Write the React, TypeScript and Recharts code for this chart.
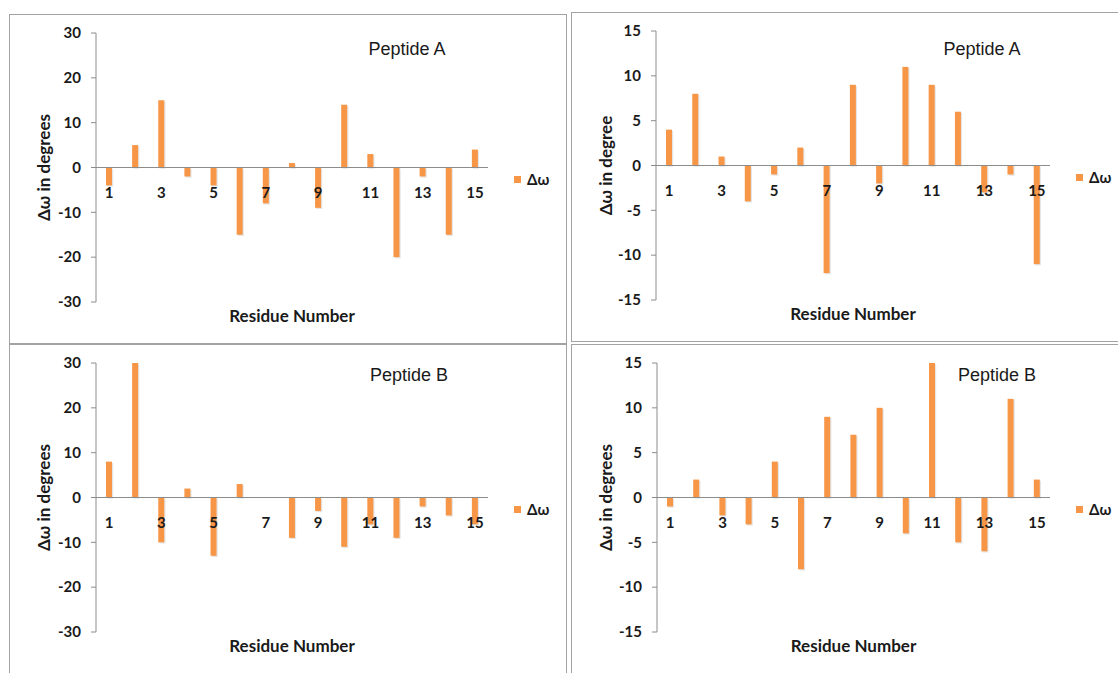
import React from 'react';
import { BarChart, Bar, XAxis, YAxis, ReferenceLine, Legend } from 'recharts';

const residues = ['1', '2', '3', '4', '5', '6', '7', '8', '9', '10', '11', '12', '13', '14', '15'];
const peptideA_left = [-4, 5, 15, -2, -4, -15, -8, 1, -9, 14, 3, -20, -2, -15, 4];
const peptideA_right = [4, 8, 1, -4, -1, 2, -12, 9, -2, 11, 9, 6, -3, -1, -11];
const peptideB_left = [8, 30, -10, 2, -13, 3, 0, -9, -3, -11, -6, -9, -2, -4, -6];
const peptideB_right = [-1, 2, -2, -3, 4, -8, 9, 7, 10, -4, 15, -5, -6, 11, 2];
const ticks30 = [-30, -20, -10, 0, 10, 20, 30];
const ticks15 = [-15, -10, -5, 0, 5, 10, 15];
const seriesName = 'Δω';

const ORANGE = '#F79646';
const AXIS = '#8c8c8c';
const TEXT = '#1a1a1a';
const BOLD_FONT = 'Lato, "Open Sans", sans-serif';

const CHART_W = 556;
const CHART_H = 328;
const MARGIN_TOP = 18;
const XAXIS_H = 41;
const PLOT_H = CHART_H - MARGIN_TOP - XAXIS_H;
const LEGEND_W = 67;
const MARGIN_RIGHT = 11;

const build = (vals: number[]) => residues.map((r, i) => ({ residue: r, dw: vals[i] }));

const ZeroTick = (props: any) => {
  const { x, payload } = props;
  const zeroY = MARGIN_TOP + PLOT_H / 2;
  return (
    <text
      x={x}
      y={zeroY + 24}
      textAnchor="middle"
      dominantBaseline="central"
      fontFamily={BOLD_FONT}
      fontWeight={700}
      fontSize={15}
      fill={TEXT}
    >
      {payload.value}
    </text>
  );
};

const ShadowBar = (props: any) => {
  const { x, y, width, height, fill } = props;
  if (!height) return <g />;
  const top = Math.min(y, y + height);
  const h = Math.abs(height);
  return (
    <g>
      <rect x={x + 1.2} y={top + 1.2} width={width} height={h} fill="#d0d0d0" opacity={0.55} />
      <rect x={x} y={top} width={width} height={h} fill={fill} />
    </g>
  );
};

const LegendContent = () => (
  <div style={{ display: 'flex', alignItems: 'center', paddingLeft: 26, fontFamily: BOLD_FONT, fontWeight: 700, fontSize: 15, color: TEXT }}>
    <span style={{ display: 'inline-block', width: 7, height: 7, background: ORANGE, marginRight: 6 }} />
    <span>{seriesName}</span>
  </div>
);

type PanelProps = {
  left: number;
  top: number;
  values: number[];
  ticks: number[];
  yLabel: string;
  title: string;
  titleX: number;
  titleY: number;
  yAxisWidth: number;
};

const Panel = ({ left, top, values, ticks, yLabel, title, titleX, titleY, yAxisWidth }: PanelProps) => {
  const data = build(values);
  const max = ticks[ticks.length - 1];
  return (
    <div
      style={{
        position: 'absolute',
        left,
        top,
        width: CHART_W,
        height: CHART_H,
        border: '1px solid #a3a3a3',
        background: '#fff',
      }}
    >
      <BarChart
        width={CHART_W}
        height={CHART_H}
        data={data}
        margin={{ top: MARGIN_TOP, right: MARGIN_RIGHT, bottom: 0, left: 0 }}
      >
        <XAxis
          dataKey="residue"
          height={XAXIS_H}
          interval={1}
          axisLine={false}
          tickLine={false}
          tick={<ZeroTick />}
          label={{
            value: 'Residue Number',
            position: 'insideBottom',
            offset: 21,
            style: { fontFamily: BOLD_FONT, fontWeight: 700, fontSize: 17, fill: TEXT },
          }}
        />
        <YAxis
          width={yAxisWidth}
          domain={[-max, max]}
          ticks={ticks}
          interval={0}
          stroke={AXIS}
          tickSize={5}
          tickMargin={10}
          tick={{ fontFamily: BOLD_FONT, fontWeight: 700, fontSize: 15, fill: TEXT }}
          label={{
            value: yLabel,
            angle: -90,
            position: 'insideLeft',
            offset: 34,
            style: { textAnchor: 'middle', fontFamily: BOLD_FONT, fontWeight: 700, fontSize: 17, fill: TEXT },
          }}
        />
        <ReferenceLine y={0} stroke={AXIS} strokeWidth={1} />
        <Legend
          layout="vertical"
          align="right"
          verticalAlign="middle"
          width={LEGEND_W}
          content={<LegendContent />}
        />
        <Bar dataKey="dw" name={seriesName} fill={ORANGE} barSize={6} isAnimationActive={false} shape={<ShadowBar />} />
      </BarChart>
      <div
        style={{
          position: 'absolute',
          left: titleX,
          top: titleY,
          transform: 'translate(-50%, -50%)',
          fontFamily: '"Liberation Sans", Arial, sans-serif',
          fontSize: 18,
          color: TEXT,
          whiteSpace: 'nowrap',
        }}
      >
        {title}
      </div>
    </div>
  );
};

export default function App() {
  return (
    <div style={{ position: 'absolute', left: 0, top: 0, width: 1118, height: 673, overflow: 'hidden', background: '#fff' }}>
      <Panel left={9} top={14} values={peptideA_left} ticks={ticks30} yLabel="Δω in degrees" title="Peptide A" titleX={397} titleY={34} yAxisWidth={86} />
      <Panel left={571} top={12} values={peptideA_right} ticks={ticks15} yLabel="Δω in degree" title="Peptide A" titleX={410} titleY={36} yAxisWidth={84} />
      <Panel left={9} top={344} values={peptideB_left} ticks={ticks30} yLabel="Δω in degrees" title="Peptide B" titleX={399} titleY={30} yAxisWidth={86} />
      <Panel left={571} top={344} values={peptideB_right} ticks={ticks15} yLabel="Δω in degrees" title="Peptide B" titleX={425} titleY={30} yAxisWidth={85} />
    </div>
  );
}
